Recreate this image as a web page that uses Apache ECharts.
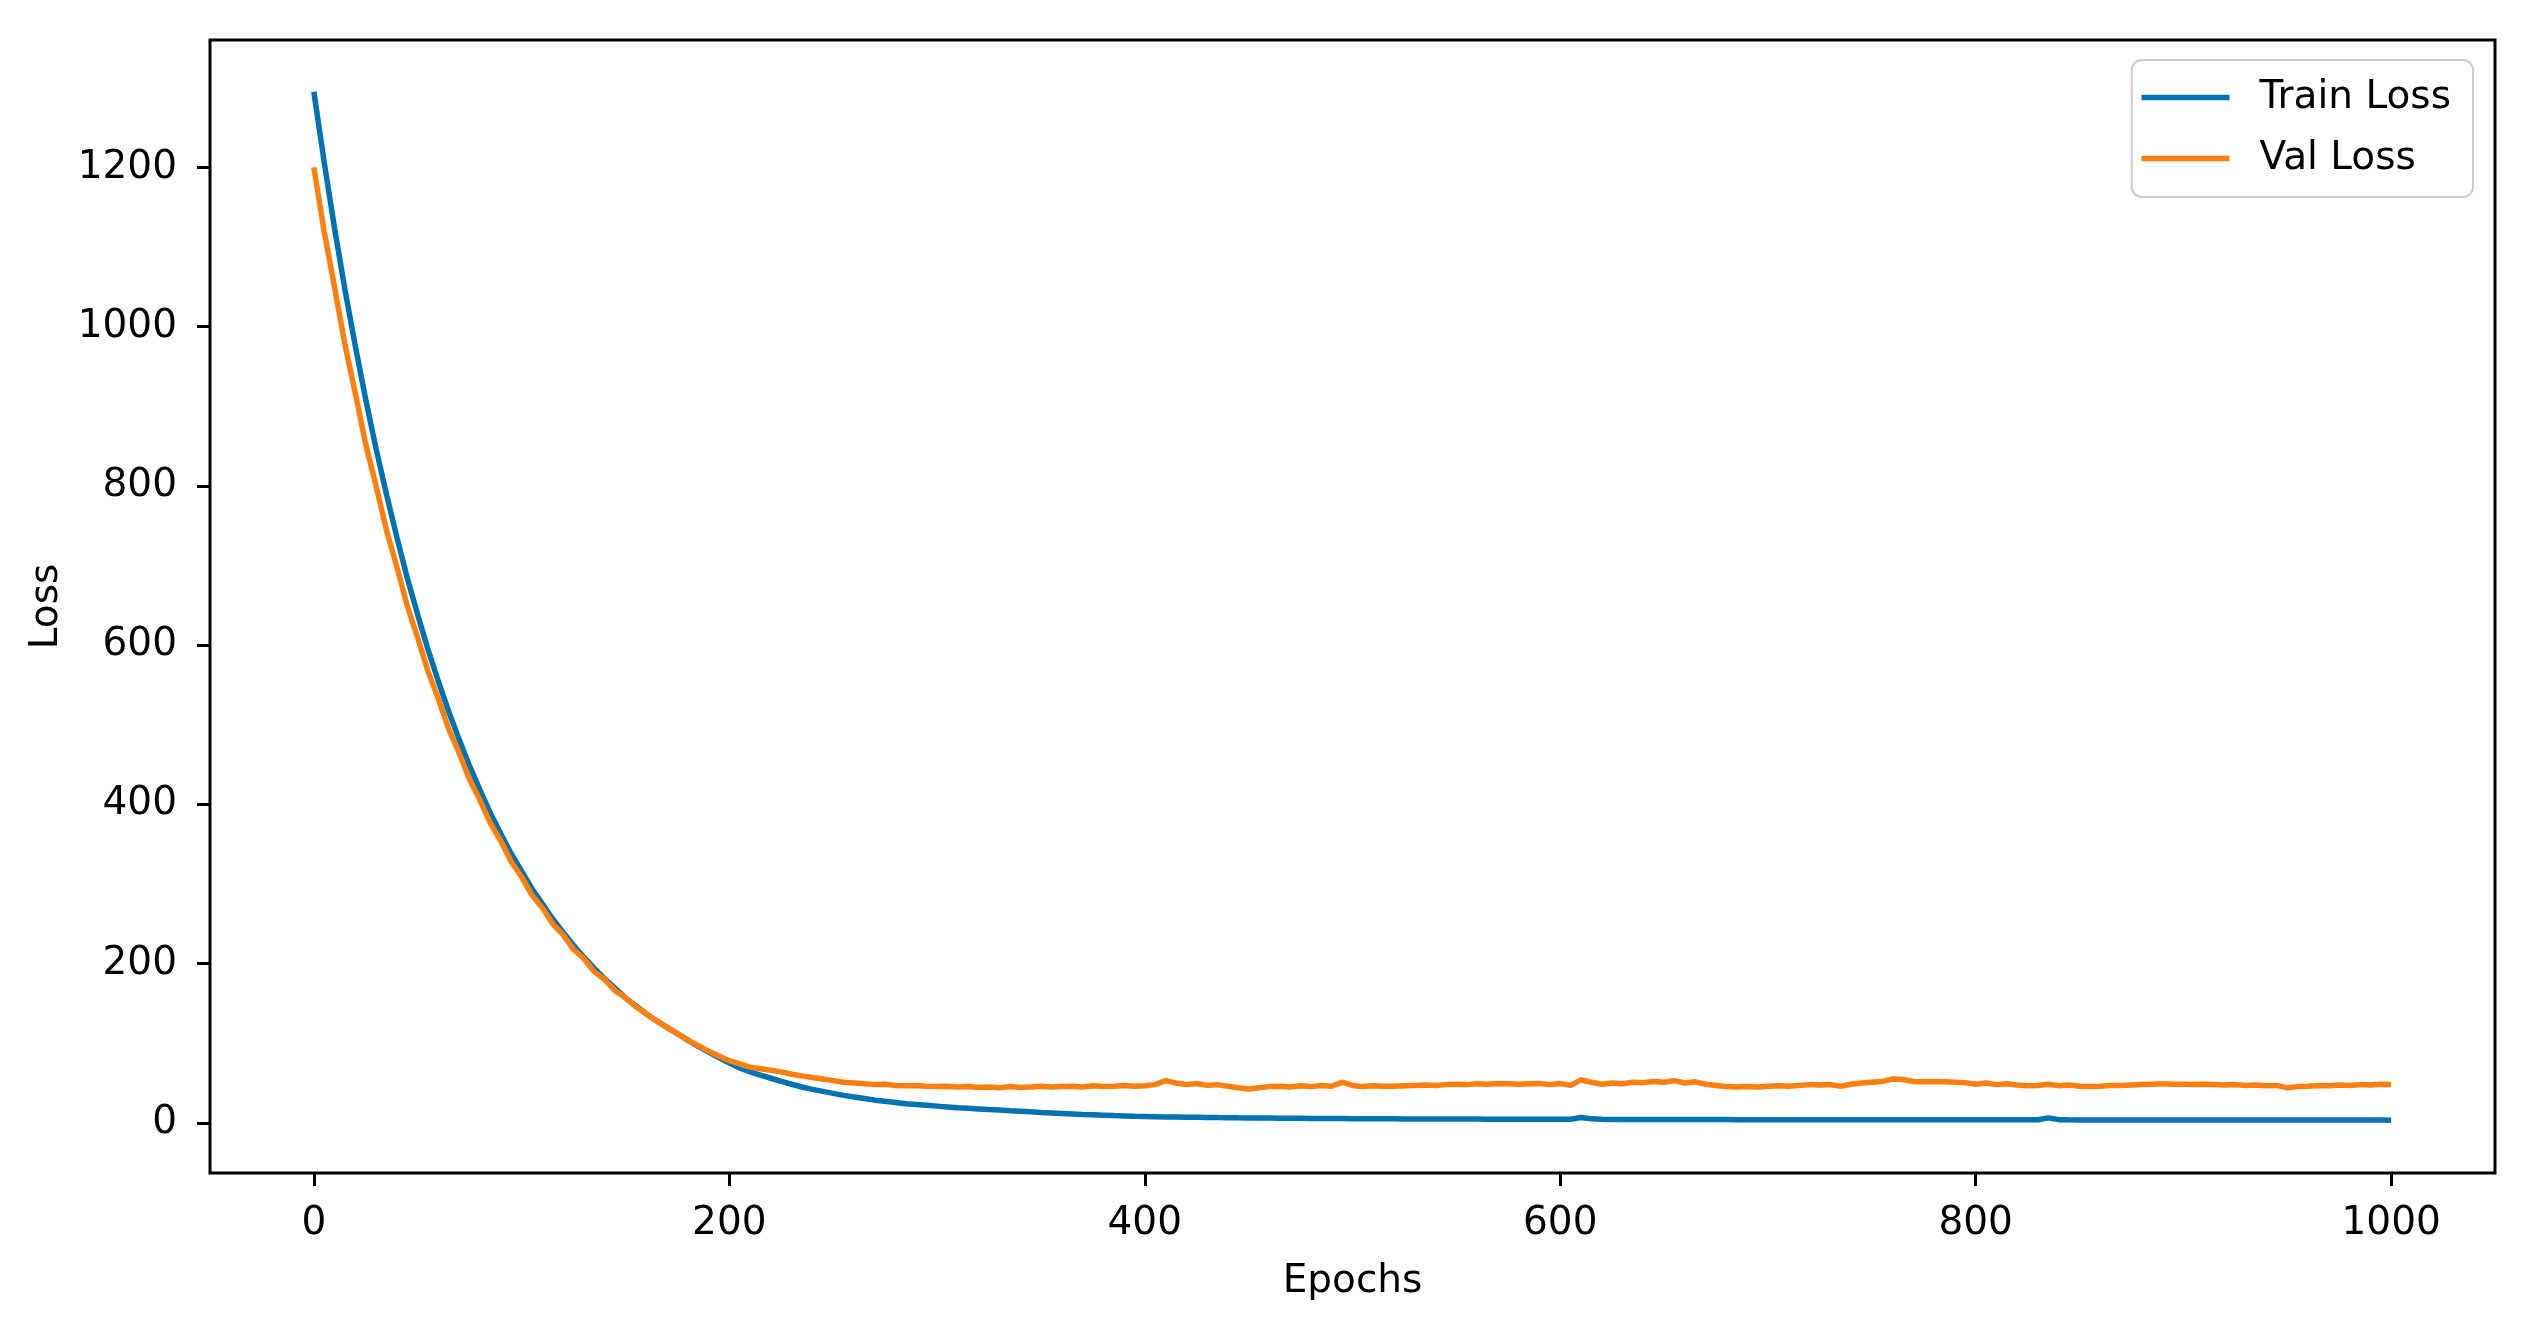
<!DOCTYPE html>
<html>
<head>
<meta charset="utf-8">
<script src="https://cdn.jsdelivr.net/npm/echarts@6/dist/echarts.min.js"></script>
<style>
html,body{margin:0;padding:0;background:#fff;}
#chart{width:2526px;height:1317px;}
</style>
</head>
<body>
<div id="chart"></div>
<script>
const epochs = [
  0,5,10,15,20,25,30,35,40,45,
  50,55,60,65,70,75,80,85,90,95,
  100,105,110,115,120,125,130,135,140,145,
  150,155,160,165,170,175,180,185,190,195,
  200,205,210,215,220,225,230,235,240,245,
  250,255,260,265,270,275,280,285,290,295,
  300,305,310,315,320,325,330,335,340,345,
  350,355,360,365,370,375,380,385,390,395,
  400,405,410,415,420,425,430,435,440,445,
  450,455,460,465,470,475,480,485,490,495,
  500,505,510,515,520,525,530,535,540,545,
  550,555,560,565,570,575,580,585,590,595,
  600,605,610,615,620,625,630,635,640,645,
  650,655,660,665,670,675,680,685,690,695,
  700,705,710,715,720,725,730,735,740,745,
  750,755,760,765,770,775,780,785,790,795,
  800,805,810,815,820,825,830,835,840,845,
  850,855,860,865,870,875,880,885,890,895,
  900,905,910,915,920,925,930,935,940,945,
  950,955,960,965,970,975,980,985,990,995,
  1000
];
const trainLoss = [
  1295,1206,1123,1046,975,908,846,789,735,684,
  638,594,554,516,481,448,418,389,363,338,
  316,294,275,256,239,223,208,194,181,169,
  157,147,137,128,120,112,104,96,89,82,
  75,69,64,60,56,52,48.5,45,42,39.5,
  37,34.5,32.5,30.5,28.5,27,25.5,24,23,22,
  21,20,19,18.2,17.5,16.7,16,15.2,14.5,13.8,
  13,12.4,11.8,11.2,10.6,10.1,9.6,9.1,8.7,8.3,
  8,7.7,7.4,7.2,7,6.9,6.8,6.6,6.5,6.3,
  6.2,6.1,6,5.9,5.8,5.7,5.6,5.5,5.4,5.3,
  5.2,5.1,5.1,5,5,4.9,4.9,4.8,4.8,4.8,
  4.7,4.7,4.7,4.6,4.6,4.6,4.5,4.5,4.5,4.5,
  4.4,4.6,6.8,5,4.4,4.3,4.3,4.3,4.2,4.2,
  4.2,4.2,4.1,4.1,4.1,4.1,4.1,4,4,4,
  4,4,4,3.9,3.9,3.9,3.9,3.9,3.9,3.9,
  3.9,3.9,3.8,3.8,3.8,3.8,3.8,3.8,3.8,3.8,
  3.8,3.8,3.8,3.8,3.8,3.8,3.9,6.2,4,3.8,
  3.7,3.7,3.7,3.7,3.7,3.7,3.7,3.6,3.6,3.6,
  3.6,3.6,3.6,3.6,3.6,3.6,3.6,3.5,3.5,3.5,
  3.5,3.5,3.5,3.5,3.5,3.5,3.5,3.5,3.5,3.5,
  3.4
];
const valLoss = [
  1200,1119,1049,977,916,852,799,744,698,649,
  609,567,532,494,464,431,405,376,354,328,
  309,286,270,250,236,218,206,190,180,166,
  157,146,137,128,120,112,104,97,90,84,
  78,74,70,68,66,64,61,59,57,55,
  53,51,50,49,48,48.5,47,46.5,47,46,
  45.5,46,45,45.5,44.5,45,44,45.5,44.5,45,
  46,45,45.5,46,45,46.5,45.5,46,47,46,
  46.5,48,53,50,48,49.5,47,48,46,44,
  42.5,44,45.5,46,45,46.5,45.5,47,46,51,
  47,45.5,46.5,46,46,46.5,47,47.5,47,48,
  48.5,48,49,48.5,49.5,49,48.5,49,49.5,48,
  49.5,47,54,51,48.5,50,49,51,50.5,52,
  51,53,50,51.5,48.5,47,45.5,45,45.5,45,
  46,46.5,46,47,48,47.5,48,46,48.5,50,
  51,52,55,54.5,52,51.5,52,51.5,51,50.5,
  48.5,50,48,49,47.5,46.5,47,48.5,46.5,47.5,
  46,45.5,46,47,47,47.5,48,48.5,49,48.5,
  48.5,48,48.5,48,47.5,48,47,47.5,46.5,47,
  44,45.5,46,47,46.5,47.5,47,48,47.5,48.5,
  48
];
const xTicks = [0,200,400,600,800,1000];
const yTicks = [0,200,400,600,800,1000,1200];
const seriesNames = ['Train Loss','Val Loss'];

const FONT = 'DejaVu Sans';
const chart = echarts.init(document.getElementById('chart'));
const pairs = (ys) => epochs.map((e, i) => [e, ys[i]]);
const plain = (v) => String(v);

chart.setOption({
  animation: false,
  backgroundColor: '#ffffff',
  grid: {
    left: 210, right: 31, top: 40, bottom: 144,
    show: true, borderColor: '#000', borderWidth: 3, backgroundColor: '#fff'
  },
  xAxis: {
    type: 'value', min: -50, max: 1050,
    name: 'Epochs', nameLocation: 'middle', nameGap: 89,
    nameTextStyle: { fontFamily: FONT, fontSize: 39, color: '#000' },
    axisLine: { show: false, onZero: false },
    splitLine: { show: false },
    axisTick: { show: true, length: 13, customValues: xTicks, lineStyle: { color: '#000', width: 3 } },
    axisLabel: { customValues: xTicks, formatter: plain, margin: 31, fontFamily: FONT, fontSize: 39, color: '#000' }
  },
  yAxis: {
    type: 'value', min: -63, max: 1360,
    name: 'Loss', nameLocation: 'middle', nameGap: 142, nameRotate: 90,
    nameTextStyle: { fontFamily: FONT, fontSize: 39, color: '#000' },
    axisLine: { show: false, onZero: false },
    splitLine: { show: false },
    axisTick: { show: true, length: 13, customValues: yTicks, lineStyle: { color: '#000', width: 3 } },
    axisLabel: { customValues: yTicks, formatter: plain, margin: 33, fontFamily: FONT, fontSize: 39, color: '#000' }
  },
  legend: {
    orient: 'vertical', right: 53, top: 60,
    itemWidth: 88, itemHeight: 40, itemGap: 22,
    padding: [18, 22, 19, 7],
    borderColor: '#cccccc', borderWidth: 2, borderRadius: 10,
    backgroundColor: 'rgba(255,255,255,0.8)',
    itemStyle: { opacity: 0 },
    lineStyle: { width: 5.5 },
    textStyle: { fontFamily: FONT, fontSize: 39, color: '#000', padding: [0, 0, 0, 25] },
    data: seriesNames
  },
  series: [
    {
      name: seriesNames[0], type: 'line', data: pairs(trainLoss),
      symbol: 'none', showSymbol: false,
      lineStyle: { color: '#0173b2', width: 5.5 }, itemStyle: { color: '#0173b2' }
    },
    {
      name: seriesNames[1], type: 'line', data: pairs(valLoss),
      symbol: 'none', showSymbol: false,
      lineStyle: { color: '#ff7f0e', width: 5.5 }, itemStyle: { color: '#ff7f0e' }
    }
  ]
});
</script>
</body>
</html>
